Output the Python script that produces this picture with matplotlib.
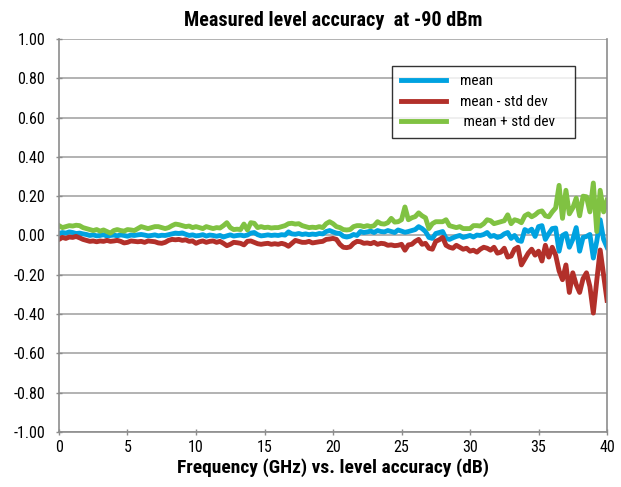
import numpy as np
import matplotlib
matplotlib.use("Agg")
import matplotlib.pyplot as plt
from matplotlib.ticker import FuncFormatter

plt.rcParams['font.family'] = ['Roboto Condensed', 'Liberation Sans Narrow',
                               'Liberation Sans', 'DejaVu Sans']

# frequency axis, 0.25 GHz steps
freq = np.arange(0, 40.01, 0.25)

mean = [
    0.01, 0.015, 0.012, 0.018, 0.015, 0.01, 0.012, 0.008,
    0.005, 0.0, 0.003, -0.002, 0.0, 0.004, -0.003, 0.0,
    0.002, -0.002, 0.003, 0.0, -0.004, 0.002, 0.0, 0.003,
    0.005, 0.002, -0.002, 0.0, 0.003, -0.002, 0.001, 0.0,
    0.004, 0.008, 0.012, 0.01, 0.013, 0.006, 0.0, 0.003,
    -0.002, 0.0, 0.004, -0.003, 0.002, 0.0, -0.004, 0.0,
    -0.008, -0.002, 0.003, -0.003, 0.0, 0.002, -0.002, 0.002,
    0.012, 0.015, 0.004, -0.002, 0.0, 0.003, 0.0, 0.002,
    0.0, 0.004, 0.002, 0.018, 0.008, 0.006, 0.01, 0.005,
    0.008, 0.004, 0.007, 0.005, 0.01, 0.008, 0.02, 0.025,
    0.018, 0.012, 0.01, -0.004, -0.008, -0.004, 0.005, 0.0,
    0.02, 0.015, 0.018, 0.022, 0.015, 0.025, 0.02, 0.018,
    0.025, 0.02, 0.015, 0.028, 0.022, 0.016, 0.02, 0.025,
    0.03, 0.045, 0.035, 0.02, -0.01, -0.015, 0.01, 0.015,
    0.02, -0.015, -0.02, -0.012, -0.005, 0.0, -0.01, -0.005,
    0.0, -0.008, 0.002, 0.0, 0.005, 0.015, -0.005, 0.0,
    -0.01, -0.005, 0.008, 0.015, -0.015, 0.0, -0.025, -0.03,
    0.03, 0.02, 0.032, -0.005, 0.045, 0.05, -0.02, 0.01,
    0.035, 0.038, -0.08, 0.0, 0.01, -0.06, -0.02, 0.04,
    -0.08, -0.01, -0.005, 0.005, -0.115, -0.03, 0.08, -0.02,
    -0.06,
]

mean_minus = [
    -0.02, -0.01, -0.015, -0.008, -0.01, -0.005, -0.012, -0.02,
    -0.025, -0.03, -0.028, -0.032, -0.028, -0.03, -0.025, -0.03,
    -0.028, -0.025, -0.03, -0.038, -0.035, -0.028, -0.03, -0.032,
    -0.03, -0.035, -0.028, -0.03, -0.032, -0.038, -0.04, -0.035,
    -0.025, -0.02, -0.022, -0.02, -0.025, -0.022, -0.03, -0.028,
    -0.04, -0.032, -0.028, -0.035, -0.03, -0.028, -0.035, -0.03,
    -0.04, -0.052, -0.045, -0.035, -0.037, -0.04, -0.048, -0.03,
    -0.028, -0.035, -0.042, -0.045, -0.042, -0.04, -0.045, -0.042,
    -0.045, -0.04, -0.045, -0.055, -0.04, -0.025, -0.03, -0.035,
    -0.035, -0.03, -0.038, -0.035, -0.032, -0.03, -0.02, -0.018,
    -0.015, -0.02, -0.045, -0.06, -0.062, -0.058, -0.04, -0.03,
    -0.032, -0.04, -0.038, -0.042, -0.035, -0.045, -0.04, -0.042,
    -0.05, -0.048, -0.052, -0.05, -0.045, -0.075, -0.048, -0.045,
    -0.03, -0.02, -0.045, -0.04, -0.065, -0.07, -0.03, -0.022,
    -0.01, -0.05, -0.06, -0.065, -0.05, -0.06, -0.07, -0.065,
    -0.08, -0.075, -0.085, -0.07, -0.06, -0.065, -0.075, -0.06,
    -0.09, -0.085, -0.065, -0.11, -0.105, -0.07, -0.06, -0.15,
    -0.12, -0.09, -0.07, -0.1, -0.08, -0.13, -0.05, -0.11,
    -0.06, -0.1, -0.18, -0.225, -0.15, -0.29, -0.19, -0.25,
    -0.29, -0.22, -0.19, -0.26, -0.395, -0.23, -0.074, -0.2,
    -0.33,
]

mean_plus = [
    0.05, 0.04, 0.045, 0.05, 0.048, 0.052, 0.05, 0.04,
    0.035, 0.03, 0.025, 0.03, 0.022, 0.028, 0.02, 0.012,
    0.025, 0.03, 0.025, 0.022, 0.03, 0.028, 0.025, 0.035,
    0.045, 0.04, 0.035, 0.04, 0.045, 0.045, 0.04, 0.035,
    0.04, 0.05, 0.058, 0.055, 0.05, 0.045, 0.048, 0.04,
    0.045, 0.04, 0.035, 0.045, 0.04, 0.035, 0.04, 0.038,
    0.05, 0.065, 0.04, 0.03, 0.032, 0.03, 0.058, 0.028,
    0.065, 0.062, 0.04, 0.045, 0.04, 0.042, 0.038, 0.04,
    0.04, 0.045, 0.05, 0.06, 0.062, 0.058, 0.06, 0.05,
    0.045, 0.04, 0.042, 0.04, 0.045, 0.04, 0.06, 0.07,
    0.06, 0.045, 0.04, 0.03, 0.028, 0.03, 0.045, 0.05,
    0.05, 0.045, 0.05, 0.045, 0.05, 0.07, 0.06, 0.058,
    0.065, 0.087, 0.068, 0.07, 0.08, 0.145, 0.08, 0.09,
    0.096, 0.115, 0.1, 0.09, 0.035, 0.06, 0.07, 0.07,
    0.07, 0.08, 0.05, 0.045, 0.04, 0.045, 0.035, 0.035,
    0.035, 0.05, 0.05, 0.048, 0.06, 0.08, 0.075, 0.06,
    0.065, 0.07, 0.075, 0.105, 0.06, 0.08, 0.075, 0.065,
    0.1, 0.11, 0.095, 0.105, 0.12, 0.125, 0.1, 0.095,
    0.12, 0.14, 0.255, 0.087, 0.23, 0.11, 0.14, 0.19,
    0.1, 0.2, 0.197, 0.12, 0.267, 0.02, 0.23, 0.12,
    0.18,
]

fig = plt.figure(figsize=(6.21, 4.87), dpi=100)
ax = fig.add_axes([0.095, 0.113, 0.8825, 0.807])

ax.plot(freq, mean, color='#00A2E0', lw=3.5, label='mean')
ax.plot(freq, mean_minus, color='#B2302A', lw=3.5, label='mean - std dev')
ax.plot(freq, mean_plus, color='#80C242', lw=3.5, label=' mean + std dev')

ax.set_xlim(0, 40)
ax.set_ylim(-1, 1)
ax.set_xticks(np.arange(0, 41, 5))
ax.set_yticks(np.arange(-1, 1.01, 0.2))
ax.yaxis.set_major_formatter(FuncFormatter(lambda v, p: f'{round(v, 2) + 0:.2f}'))
ax.grid(axis='y', color='#A6A6A6', lw=1.2)
ax.set_axisbelow(True)
ax.spines['top'].set_visible(False)
for s in ['left', 'right', 'bottom']:
    ax.spines[s].set_color('#8C8C8C')
    ax.spines[s].set_linewidth(1.2)
ax.tick_params(axis='both', labelsize=11.5, color='#8C8C8C', length=4,
               direction='inout', width=1)
ax.tick_params(axis='x', pad=4)
ax.tick_params(axis='y', pad=8)

ax.set_title('Measured level accuracy  at -90 dBm', fontsize=14.5,
             fontweight='bold', pad=9)
ax.set_xlabel('Frequency (GHz) vs. level accuracy (dB)', fontsize=14,
              fontweight='bold', labelpad=2)

leg = ax.legend(loc='upper right', bbox_to_anchor=(0.608, 0.766, 0.334, 0.165),
                mode='expand', fontsize=11, frameon=True, fancybox=False,
                handlelength=3.0, borderpad=0.55, labelspacing=0.42,
                handletextpad=0.9, borderaxespad=0)
leg.get_frame().set_edgecolor('#000000')
leg.get_frame().set_linewidth(1.0)

fig.savefig('out.png', dpi=100)
